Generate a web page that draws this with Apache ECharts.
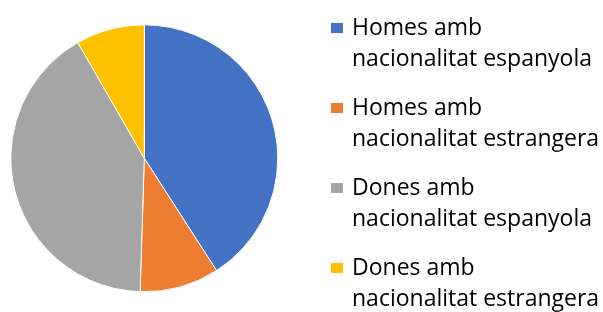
<!DOCTYPE html>
<html>
<head>
<meta charset="utf-8">
<script src="https://cdn.jsdelivr.net/npm/echarts@6/dist/echarts.min.js"></script>
<style>
  html, body { margin: 0; padding: 0; background: #fff; }
  #chart { width: 603px; height: 312px; }
</style>
</head>
<body>
<div id="chart"></div>
<script>
// categories and values (percent)
var categories = [
  "Homes amb nacionalitat espanyola",
  "Homes amb nacionalitat estrangera",
  "Dones amb nacionalitat espanyola",
  "Dones amb nacionalitat estrangera"
];
var values = [40.9, 9.6, 41.2, 8.3];
var colors = ["#4472C4", "#ED7D31", "#A5A5A5", "#FFC000"];

var pieData = categories.map(function (name, i) {
  return { name: name, value: values[i], itemStyle: { color: colors[i] } };
});

var myChart = echarts.init(document.getElementById("chart"));
var option = {
  animation: false,
  legend: {
    orient: "vertical",
    left: 329,
    top: -18.5,
    height: 420,
    padding: 0,
    icon: "rect",
    itemWidth: 14,
    itemHeight: 12,
    itemGap: -13,
    selectedMode: false,
    textStyle: {
      fontFamily: "Open Sans",
      fontSize: 23,
      color: "#000",
      lineHeight: 31,
      padding: [0, 0, 0, 3]
    },
    formatter: function (name) {
      // empty first line keeps the icon level with "Homes amb"
      return "\n" + name.replace(" amb ", " amb\n");
    },
    data: categories
  },
  series: [
    {
      type: "pie",
      center: [144.3, 158.3],
      radius: 133.5,
      startAngle: 90,
      clockwise: true,
      label: { show: false },
      labelLine: { show: false },
      emphasis: { disabled: true },
      itemStyle: { borderColor: "#fff", borderWidth: 1 },
      data: pieData
    }
  ]
};
myChart.setOption(option);
</script>
</body>
</html>
